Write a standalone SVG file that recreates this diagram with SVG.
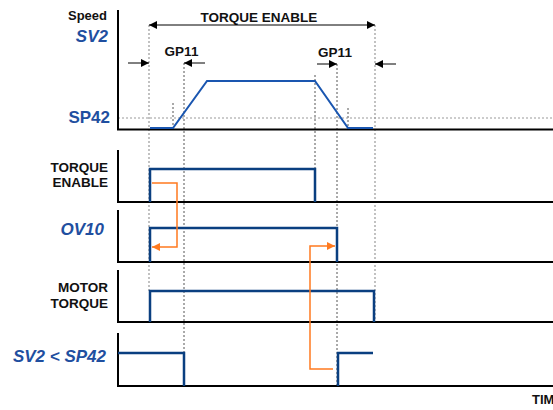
<svg xmlns="http://www.w3.org/2000/svg" width="553" height="410" viewBox="0 0 553 410">
<defs>
<style>
.lbl{font-family:"Liberation Sans",Arial,sans-serif;font-weight:bold;fill:#111}
.blu{font-family:"Liberation Sans",Arial,sans-serif;font-weight:bold;fill:#1f4fa0}
.ax{stroke:#000;stroke-width:2;fill:none}
.dash{stroke:#555;stroke-width:1;stroke-dasharray:2,2;fill:none}
.dashl{stroke:#999;stroke-width:1.2;stroke-dasharray:2,2;fill:none}
.sig{stroke:#0a3f80;stroke-width:2.5;fill:none}
.spd{stroke:#1a56b0;stroke-width:2;fill:none}
.org{stroke:#ff7a1f;stroke-width:1.5;fill:none}
.dim{stroke:#000;stroke-width:1;fill:none}
</style>
<marker id="ah" viewBox="0 0 10 10" refX="10" refY="5" markerWidth="9" markerHeight="8" markerUnits="userSpaceOnUse" orient="auto"><path d="M0,0 L10,5 L0,10 z" fill="#000"/></marker>
<marker id="ao" viewBox="0 0 10 10" refX="10" refY="5" markerWidth="9" markerHeight="8" markerUnits="userSpaceOnUse" orient="auto"><path d="M0,0 L10,5 L0,10 z" fill="#ff7a1f"/></marker>
</defs>

<g id="guides">
<line class="dashl" x1="149" y1="25" x2="149" y2="291"/>
<line class="dash" x1="184" y1="63" x2="184" y2="386"/>
<line class="dash" x1="315" y1="75" x2="315" y2="169"/>
<line class="dash" x1="337" y1="64" x2="337" y2="386"/>
<line class="dashl" x1="375" y1="25" x2="375" y2="322"/>
<line class="dash" x1="173" y1="103" x2="173" y2="129"/>
<line class="dash" x1="348" y1="108" x2="348" y2="129"/>
<line class="dashl" x1="118" y1="118" x2="553" y2="118"/>
</g>

<g id="speed-chart">
<text class="lbl" x="107" y="20" font-size="13" text-anchor="end">Speed</text>
<text class="blu" x="108" y="42" font-size="17" font-style="italic" text-anchor="end">SV2</text>
<text class="blu" x="110" y="123" font-size="17" text-anchor="end">SP42</text>
<polyline class="ax" points="118,10 118,129.5 553,129.5"/>
<polyline class="spd" points="150,128 173,128 207,81 315,81 348,128 373,128"/>
</g>

<g id="dimensions">
<text class="lbl" x="259" y="22" font-size="13.5" text-anchor="middle">TORQUE ENABLE</text>
<line class="dim" x1="262" y1="25" x2="149" y2="25" marker-end="url(#ah)"/>
<line class="dim" x1="262" y1="25" x2="375" y2="25" marker-end="url(#ah)"/>
<text class="lbl" x="181.5" y="56" font-size="13.5" text-anchor="middle">GP11</text>
<line class="dim" x1="128" y1="63" x2="149" y2="63" marker-end="url(#ah)"/>
<line class="dim" x1="205" y1="63" x2="184" y2="63" marker-end="url(#ah)"/>
<text class="lbl" x="335" y="57" font-size="13.5" text-anchor="middle">GP11</text>
<line class="dim" x1="317" y1="64" x2="337" y2="64" marker-end="url(#ah)"/>
<line class="dim" x1="396" y1="64" x2="375" y2="64" marker-end="url(#ah)"/>
</g>

<g id="torque-enable">
<text class="lbl" x="108" y="172" font-size="13.5" text-anchor="end">TORQUE</text>
<text class="lbl" x="108" y="187" font-size="13.5" text-anchor="end">ENABLE</text>
<polyline class="ax" points="118,150 118,202 553,202"/>
<polyline class="sig" points="150,202 150,169 315,169 315,202"/>
</g>

<g id="ov10">
<text class="blu" x="104" y="235" font-size="17" font-style="italic" text-anchor="end">OV10</text>
<polyline class="ax" points="118,210 118,262 553,262"/>
<polyline class="sig" points="150,262 150,228 337,228 337,262"/>
</g>

<g id="motor-torque">
<text class="lbl" x="108" y="292" font-size="13.5" text-anchor="end">MOTOR</text>
<text class="lbl" x="108" y="308" font-size="13.5" text-anchor="end">TORQUE</text>
<polyline class="ax" points="118,270 118,322 553,322"/>
<polyline class="sig" points="150,322 150,291 374,291 374,322"/>
</g>

<g id="sv2-sp42">
<text class="blu" x="106" y="362" font-size="17" font-style="italic" text-anchor="end">SV2 &lt; SP42</text>
<polyline class="ax" points="118,333 118,386 553,386"/>
<polyline class="sig" points="118,353 184,353 184,386"/>
<polyline class="sig" points="338,386 338,353 373,353"/>
</g>

<g id="connectors">
<polyline class="org" points="152,183 177,183 177,247 152,247" marker-end="url(#ao)"/>
<polyline class="org" points="333,369 310,369 310,246 335,246" marker-end="url(#ao)"/>
</g>

<text class="lbl" x="532" y="404" font-size="13">TIM</text>
</svg>
